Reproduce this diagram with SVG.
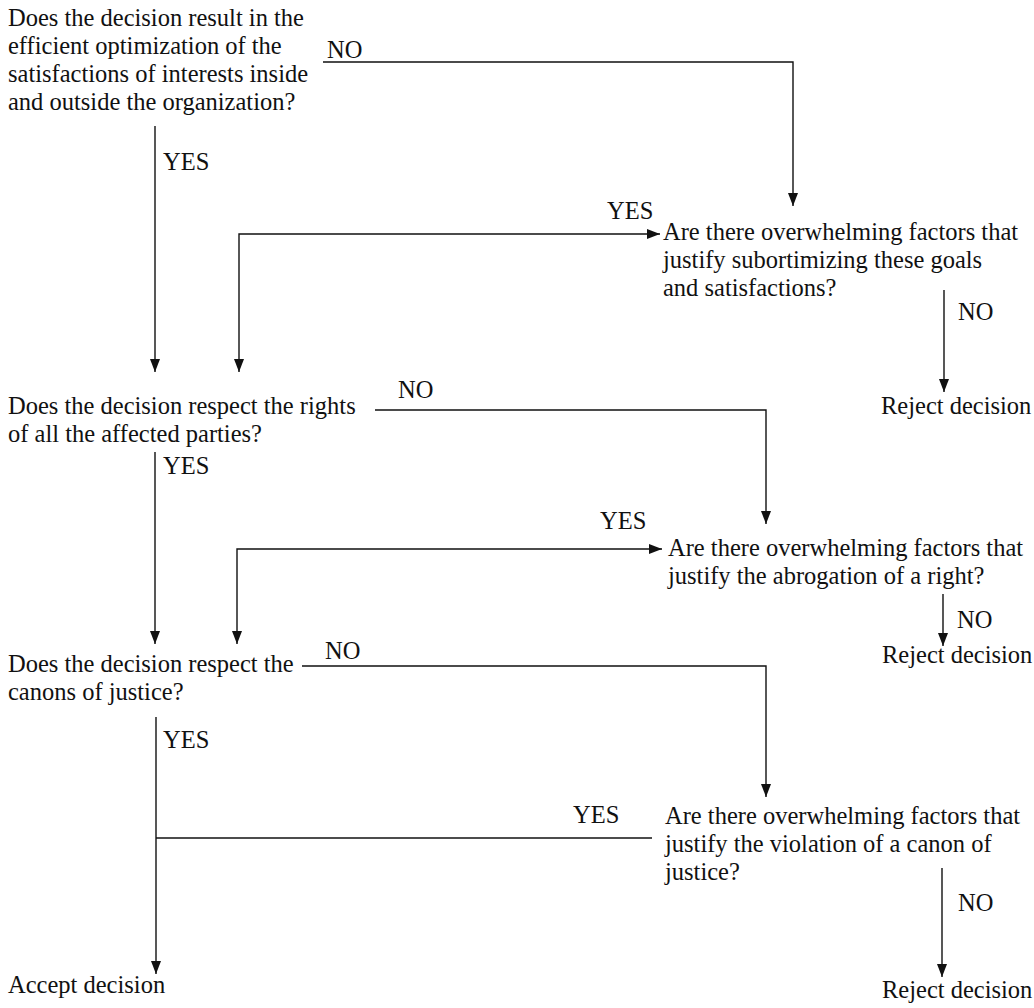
<svg xmlns="http://www.w3.org/2000/svg" width="1034" height="1008" viewBox="0 0 1034 1008">
<style>
text{font-family:"Liberation Serif","Times New Roman",serif;font-size:24.5px;fill:#111}
.c{fill:none;stroke:#111;stroke-width:1.4}
</style>
<defs>
<marker id="ah" markerUnits="userSpaceOnUse" markerWidth="14" markerHeight="10" refX="13" refY="5" orient="auto-start-reverse">
<path d="M0,0 L13,5 L0,10 Z" fill="#111"/>
</marker>
</defs>
<rect width="1034" height="1008" fill="#fff"/>
<g id="connectors">
<path class="c" d="M323,62 H793 V206" marker-end="url(#ah)"/>
<path class="c" d="M155,126 V372" marker-end="url(#ah)"/>
<path class="c" d="M660,234 H239 V372" marker-start="url(#ah)" marker-end="url(#ah)"/>
<path class="c" d="M944,290 V392" marker-end="url(#ah)"/>
<path class="c" d="M375,410 H766 V524" marker-end="url(#ah)"/>
<path class="c" d="M155,452 V644" marker-end="url(#ah)"/>
<path class="c" d="M662,549 H237 V644" marker-start="url(#ah)" marker-end="url(#ah)"/>
<path class="c" d="M943,594 V646" marker-end="url(#ah)"/>
<path class="c" d="M302,666 H766 V797" marker-end="url(#ah)"/>
<path class="c" d="M156,717 V974" marker-end="url(#ah)"/>
<path class="c" d="M156,838 H652"/>
<path class="c" d="M942,868 V977" marker-end="url(#ah)"/>
</g>
<g id="labels">
<text x="327" y="58">NO</text>
<text x="163" y="170">YES</text>
<text x="607" y="219">YES</text>
<text x="958" y="320">NO</text>
<text x="398" y="398">NO</text>
<text x="163" y="474">YES</text>
<text x="600" y="529">YES</text>
<text x="957" y="628">NO</text>
<text x="325" y="659">NO</text>
<text x="163" y="748">YES</text>
<text x="573" y="823">YES</text>
<text x="958" y="911">NO</text>
</g>
<g id="q1">
<text x="8" y="26">Does the decision result in the</text>
<text x="8" y="54">efficient optimization of the</text>
<text x="8" y="82">satisfactions of interests inside</text>
<text x="8" y="110">and outside the organization?</text>
</g>
<g id="q1r">
<text x="663" y="240">Are there overwhelming factors that</text>
<text x="663" y="268">justify subortimizing these goals</text>
<text x="663" y="296">and satisfactions?</text>
</g>
<g id="reject1"><text x="881" y="414">Reject decision</text></g>
<g id="q2">
<text x="8" y="414">Does the decision respect the rights</text>
<text x="8" y="442">of all the affected parties?</text>
</g>
<g id="q2r">
<text x="668" y="556">Are there overwhelming factors that</text>
<text x="668" y="584">justify the abrogation of a right?</text>
</g>
<g id="reject2"><text x="882" y="663">Reject decision</text></g>
<g id="q3">
<text x="8" y="672">Does the decision respect the</text>
<text x="8" y="700">canons of justice?</text>
</g>
<g id="q3r">
<text x="665" y="824">Are there overwhelming factors that</text>
<text x="665" y="852">justify the violation of a canon of</text>
<text x="665" y="880">justice?</text>
</g>
<g id="accept"><text x="8" y="993">Accept decision</text></g>
<g id="reject3"><text x="882" y="998">Reject decision</text></g>
</svg>
